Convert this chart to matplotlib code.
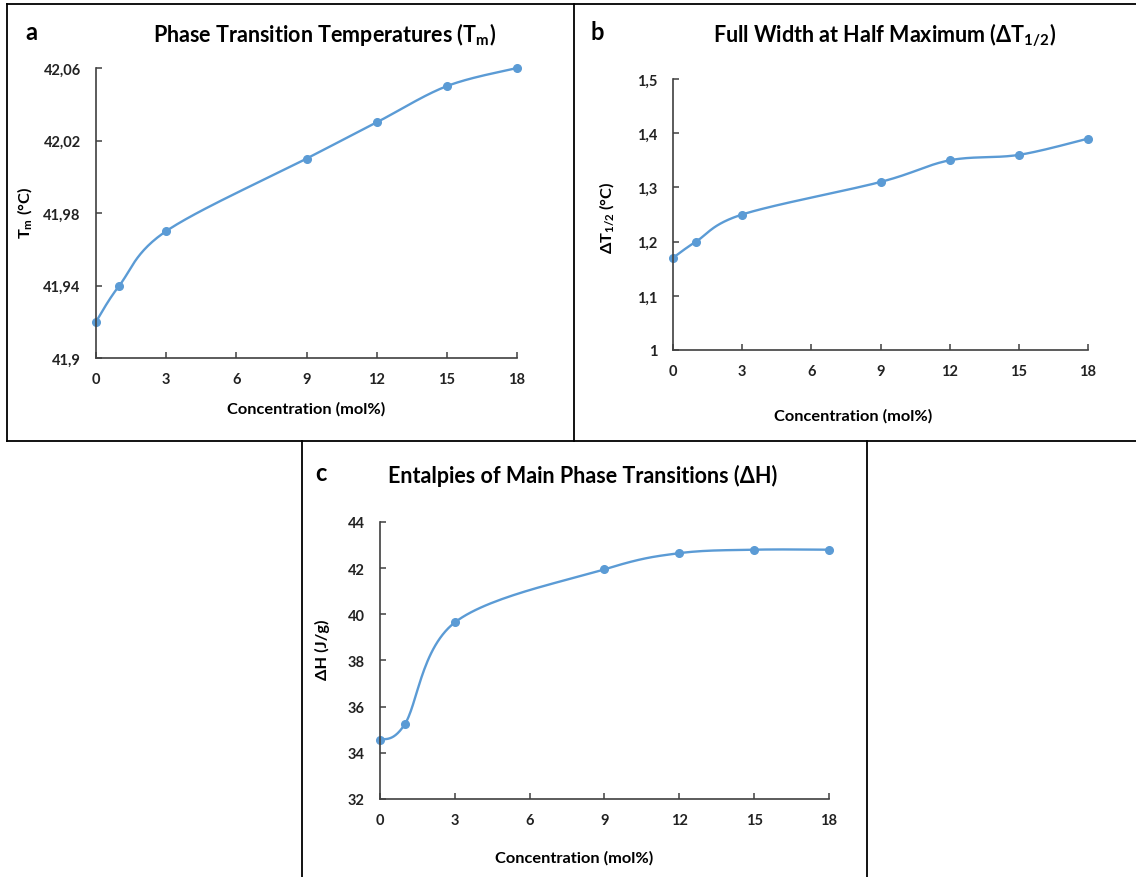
import numpy as np
import matplotlib
matplotlib.use("Agg")
import matplotlib.pyplot as plt
from matplotlib.lines import Line2D

plt.rcParams['font.family'] = ['Lato', 'DejaVu Sans']
plt.rcParams['mathtext.fontset'] = 'custom'
plt.rcParams['mathtext.rm'] = 'Lato'
plt.rcParams['mathtext.bf'] = 'Lato:bold'

# -----------------------------
# Data
# -----------------------------
conc = [0, 1, 3, 9, 12, 15, 18]
x_ticks = [0, 3, 6, 9, 12, 15, 18]

tm = [41.92, 41.94, 41.97, 42.01, 42.03, 42.05, 42.06]
tm_ticks = [41.90, 41.94, 41.98, 42.02, 42.06]
tm_labels = ['41,9', '41,94', '41,98', '42,02', '42,06']

fwhm = [1.17, 1.20, 1.25, 1.31, 1.35, 1.36, 1.39]
fwhm_ticks = [1.0, 1.1, 1.2, 1.3, 1.4, 1.5]
fwhm_labels = ['1', '1,1', '1,2', '1,3', '1,4', '1,5']

dh = [34.55, 35.25, 39.65, 41.95, 42.65, 42.8, 42.8]
dh_ticks = [32, 34, 36, 38, 40, 42, 44]
dh_labels = ['32', '34', '36', '38', '40', '42', '44']

BLUE = '#5B9BD5'
AXC = '#404040'
W, H = 1136, 878
TITLE_FS = 15.5
LABEL_FS = 11.8


def smooth(x, y, w, h, n=30):
    # Excel-like bezier smoothing, done in pixel-ish space
    p = np.column_stack([np.asarray(x, float) * w, np.asarray(y, float) * h])
    out = []
    for i in range(len(p) - 1):
        p0 = p[i - 1] if i > 0 else p[i]
        p3 = p[i + 2] if i + 2 < len(p) else p[i + 1]
        c1 = p[i] + (p[i + 1] - p0) / 6
        c2 = p[i + 1] - (p3 - p[i]) / 6
        t = np.linspace(0, 1, n)[:, None]
        seg = ((1 - t) ** 3) * p[i] + 3 * ((1 - t) ** 2) * t * c1 + 3 * (1 - t) * t ** 2 * c2 + t ** 3 * p[i + 1]
        out.append(seg)
    out = np.vstack(out)
    return out[:, 0] / w, out[:, 1] / h


def px_axes(fig, l, r, t, b):
    return fig.add_axes([l / W, 1 - b / H, (r - l) / W, (b - t) / H])


def panel(ax, y, yticks, ylabels, ylim):
    xs, ys = smooth(conc, y, ax.bbox.width / 18, ax.bbox.height / (ylim[1] - ylim[0]))
    ax.plot(xs, ys, color=BLUE, lw=1.7, solid_capstyle='round', clip_on=False)
    ax.plot(conc, y, 'o', color=BLUE, ms=5.5, clip_on=False)
    ax.set_xlim(0, 18)
    ax.set_ylim(*ylim)
    ax.set_xticks(x_ticks)
    ax.set_yticks(yticks)
    ax.set_yticklabels(ylabels)
    for s in ['top', 'right']:
        ax.spines[s].set_visible(False)
    for s in ['left', 'bottom']:
        ax.spines[s].set_color(AXC)
        ax.spines[s].set_linewidth(1.2)
    ax.tick_params(direction='in', length=4, width=1.1, color=AXC, labelsize=10.5)
    ax.tick_params(axis='x', pad=10)
    ax.tick_params(axis='y', pad=11)
    for lab in ax.get_xticklabels() + ax.get_yticklabels():
        lab.set_fontweight('bold')
        lab.set_color('#222222')


fig = plt.figure(figsize=(W / 100, H / 100), dpi=100)

# panel borders
box_kw = dict(color='black', lw=1.3, transform=fig.transFigure)
def hline(x0, x1, y):
    fig.add_artist(Line2D([x0 / W, x1 / W], [1 - y / H, 1 - y / H], **box_kw))
def vline(x, y0, y1):
    fig.add_artist(Line2D([x / W, x / W], [1 - y0 / H, 1 - y1 / H], **box_kw))

hline(7, W, 5)
hline(7, W, 442)
vline(7, 5, 442)
vline(574, 5, 442)
vline(302, 442, H)
vline(867, 442, H)

# -----------------------------
# a
# -----------------------------
ax_a = px_axes(fig, 96, 517, 69, 359)
panel(ax_a, tm, tm_ticks, tm_labels, (41.90, 42.06))
fig.text(325 / W, 1 - 35 / H, r'Phase Transition Temperatures (T$_\mathregular{m}$)',
         ha='center', va='center', fontsize=TITLE_FS, fontweight='bold')
fig.text(31 / W, 1 - 32 / H, 'a', ha='center', va='center', fontsize=17, fontweight='bold')
fig.text(306 / W, 1 - 409 / H, 'Concentration (mol%)', ha='center', va='center',
         fontsize=LABEL_FS, fontweight='bold')
fig.text(25 / W, 1 - 213 / H, r'T$_\mathregular{m}$ (°C)', ha='center', va='center',
         rotation=90, fontsize=LABEL_FS, fontweight='bold')

# -----------------------------
# b
# -----------------------------
ax_b = px_axes(fig, 673, 1088, 80, 351)
panel(ax_b, fwhm, fwhm_ticks, fwhm_labels, (1.0, 1.5))
fig.text(885 / W, 1 - 35 / H, r'Full Width at Half Maximum (ΔT$_\mathregular{1/2}$)',
         ha='center', va='center', fontsize=TITLE_FS, fontweight='bold')
fig.text(597 / W, 1 - 32 / H, 'b', ha='center', va='center', fontsize=17, fontweight='bold')
fig.text(853 / W, 1 - 416 / H, 'Concentration (mol%)', ha='center', va='center',
         fontsize=LABEL_FS, fontweight='bold')
fig.text(606 / W, 1 - 218 / H, r'ΔT$_\mathregular{1/2}$ (°C)', ha='center', va='center',
         rotation=90, fontsize=LABEL_FS, fontweight='bold')

# -----------------------------
# c
# -----------------------------
ax_c = px_axes(fig, 380, 829, 523, 800)
panel(ax_c, dh, dh_ticks, dh_labels, (32, 44))
fig.text(583 / W, 1 - 476 / H, 'Entalpies of Main Phase Transitions (ΔH)',
         ha='center', va='center', fontsize=TITLE_FS, fontweight='bold')
fig.text(321 / W, 1 - 474 / H, 'c', ha='center', va='center', fontsize=17, fontweight='bold')
fig.text(574 / W, 1 - 858 / H, 'Concentration (mol%)', ha='center', va='center',
         fontsize=LABEL_FS, fontweight='bold')
fig.text(322 / W, 1 - 650 / H, 'ΔH (J/g)', ha='center', va='center',
         rotation=90, fontsize=LABEL_FS, fontweight='bold')

fig.savefig("out.png", dpi=100)
